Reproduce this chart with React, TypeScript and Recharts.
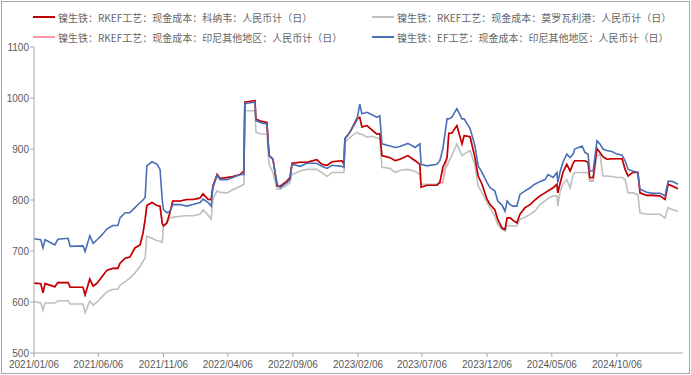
import React from "react";
import { LineChart, Line, XAxis, YAxis } from "recharts";

// sample dates (irregular, taken at the visible steps of the series)
const dates = [
  "2021-01-06", "2021-01-22", "2021-01-27", "2021-02-01", "2021-02-24", "2021-03-03", "2021-03-27", "2021-04-01",
  "2021-05-01", "2021-05-06", "2021-05-17", "2021-05-25", "2021-06-03", "2021-06-15", "2021-06-26", "2021-07-10",
  "2021-07-22", "2021-07-27", "2021-08-08", "2021-08-19", "2021-08-31", "2021-09-12", "2021-09-19", "2021-09-24",
  "2021-09-28", "2021-10-10", "2021-10-22", "2021-10-29", "2021-11-03", "2021-11-06", "2021-11-14", "2021-11-21",
  "2021-11-28", "2021-12-15", "2021-12-31", "2022-01-14", "2022-01-31", "2022-02-07", "2022-02-19", "2022-02-26",
  "2022-03-02", "2022-03-12", "2022-03-19", "2022-04-04", "2022-04-18", "2022-05-05", "2022-05-14", "2022-05-16",
  "2022-06-09", "2022-06-11", "2022-06-21", "2022-07-07", "2022-07-12", "2022-07-21", "2022-07-31", "2022-08-07",
  "2022-08-23", "2022-08-30", "2022-09-04", "2022-09-23", "2022-10-09", "2022-11-01", "2022-11-13", "2022-11-25",
  "2022-12-07", "2022-12-30", "2023-01-04", "2023-01-06", "2023-01-18", "2023-02-03", "2023-02-10", "2023-02-15",
  "2023-02-27", "2023-03-11", "2023-03-22", "2023-03-29", "2023-04-03", "2023-04-22", "2023-05-04", "2023-05-15",
  "2023-06-03", "2023-06-20", "2023-07-01", "2023-07-04", "2023-07-18", "2023-08-10", "2023-08-17", "2023-08-24",
  "2023-09-03", "2023-09-07", "2023-09-14", "2023-09-26", "2023-10-08", "2023-10-13", "2023-10-27", "2023-11-07",
  "2023-11-15", "2023-11-24", "2023-12-06", "2023-12-13", "2023-12-24", "2023-12-31", "2024-01-10", "2024-01-17",
  "2024-01-22", "2024-01-29", "2024-02-05", "2024-02-14", "2024-02-21", "2024-03-04", "2024-03-16", "2024-03-27",
  "2024-04-08", "2024-04-20", "2024-04-27", "2024-05-09", "2024-05-18", "2024-05-20", "2024-05-25", "2024-06-01",
  "2024-06-10", "2024-06-18", "2024-06-25", "2024-06-29", "2024-07-16", "2024-07-23", "2024-07-30", "2024-08-03",
  "2024-08-11", "2024-08-20", "2024-08-27", "2024-09-03", "2024-09-12", "2024-09-24", "2024-10-06", "2024-10-18",
  "2024-10-25", "2024-11-01", "2024-11-12", "2024-11-24", "2024-11-29", "2024-12-15", "2024-12-29", "2025-01-15",
  "2025-01-27", "2025-02-03", "2025-02-14", "2025-02-26",
];

// 科纳韦 RKEF
const konaweRkef = [
  637, 636, 618, 636, 630, 638, 638, 629, 629, 614, 645, 631, 637, 650, 662, 666,
  666, 676, 686, 688, 706, 712, 735, 762, 789, 795, 789, 788, 755, 749, 755, 775,
  798, 798, 801, 801, 804, 812, 801, 801, 827, 850, 842, 844, 846, 850, 857, 992,
  995, 959, 955, 952, 887, 880, 827, 827, 837, 844, 872, 874, 874, 879, 870, 868,
  875, 877, 870, 920, 933, 959, 962, 943, 946, 937, 929, 930, 887, 883, 877, 880,
  887, 877, 870, 825, 829, 829, 834, 864, 883, 931, 931, 946, 910, 926, 924, 885,
  847, 831, 801, 791, 781, 762, 745, 742, 765, 765, 760, 755, 772, 785, 791, 800,
  808, 814, 818, 824, 831, 814, 831, 854, 870, 857, 872, 877, 877, 877, 874, 844,
  844, 901, 893, 885, 880, 881, 881, 881, 860, 847, 854, 854, 814, 809, 809, 808,
  801, 831, 827, 822,
];

// 莫罗瓦利港 RKEF
const morowaliRkef = [
  601, 598, 584, 598, 598, 602, 603, 596, 596, 579, 602, 594, 600, 610, 620, 625,
  625, 633, 640, 647, 657, 670, 680, 686, 729, 725, 720, 719, 717, 749, 755, 765,
  766, 768, 769, 769, 772, 781, 770, 762, 801, 818, 815, 814, 820, 827, 831, 975,
  975, 933, 930, 929, 870, 854, 821, 821, 829, 834, 850, 857, 860, 860, 854, 846,
  854, 854, 854, 913, 923, 933, 929, 929, 923, 925, 922, 919, 864, 862, 854, 858,
  860, 856, 850, 831, 831, 831, 837, 857, 867, 875, 887, 910, 887, 890, 897, 870,
  827, 815, 795, 785, 768, 752, 742, 739, 749, 750, 749, 749, 762, 766, 772, 778,
  791, 798, 803, 808, 808, 788, 815, 831, 840, 824, 850, 854, 854, 854, 854, 837,
  837, 887, 890, 847, 847, 846, 844, 844, 840, 814, 814, 811, 775, 772, 772, 772,
  765, 785, 781, 778,
];

// 印尼其他地区 RKEF
const otherRkef = [
  637, 636, 618, 636, 630, 638, 638, 629, 629, 614, 645, 631, 637, 650, 662, 666,
  666, 676, 686, 688, 706, 712, 735, 762, 789, 795, 789, 788, 755, 749, 755, 775,
  798, 798, 801, 801, 804, 812, 801, 801, 827, 850, 842, 844, 846, 850, 857, 992,
  995, 959, 955, 952, 887, 880, 827, 827, 837, 844, 872, 874, 874, 879, 870, 868,
  875, 877, 870, 920, 933, 959, 962, 943, 946, 937, 929, 930, 887, 883, 877, 880,
  887, 877, 870, 825, 829, 829, 834, 834, 883, 931, 931, 946, 910, 926, 924, 885,
  847, 831, 801, 791, 781, 762, 745, 742, 765, 765, 760, 755, 772, 785, 791, 800,
  808, 814, 818, 824, 831, 814, 831, 854, 870, 857, 872, 877, 877, 877, 874, 840,
  840, 901, 893, 885, 880, 881, 881, 881, 860, 847, 854, 854, 814, 809, 809, 808,
  801, 831, 827, 822,
];

// 印尼其他地区 EF
const otherEf = [
  724, 722, 706, 722, 712, 723, 725, 709, 710, 699, 730, 715, 722, 732, 743, 750,
  750, 765, 775, 775, 785, 795, 800, 805, 867, 875, 870, 860, 801, 781, 775, 778,
  791, 791, 788, 791, 795, 802, 795, 788, 824, 848, 840, 840, 844, 850, 850, 989,
  992, 956, 952, 949, 887, 880, 831, 824, 834, 840, 870, 866, 872, 872, 866, 862,
  868, 866, 864, 920, 933, 956, 988, 969, 972, 967, 962, 965, 910, 906, 903, 905,
  911, 903, 910, 870, 867, 870, 877, 900, 959, 959, 962, 979, 959, 959, 940, 908,
  867, 854, 834, 824, 818, 798, 790, 778, 798, 791, 788, 788, 811, 818, 824, 831,
  836, 840, 850, 844, 854, 834, 854, 874, 890, 883, 890, 900, 906, 893, 890, 857,
  857, 916, 910, 900, 897, 895, 890, 888, 877, 860, 857, 854, 821, 815, 813, 813,
  808, 837, 836, 831,
];

const yTicks = [500, 600, 700, 800, 900, 1000, 1100];
const xTickDates = [
  "2021-01-06", "2021-06-06", "2021-11-06", "2022-04-06", "2022-09-06",
  "2023-02-06", "2023-07-06", "2023-12-06", "2024-05-06", "2024-10-06",
];
const xStart = "2021-01-06";
const xEnd = "2025-03-10";

const toTime = (s: string) => new Date(s + "T00:00:00Z").getTime();

const rows = dates.map((d, i) => ({
  t: toTime(d),
  konawe: konaweRkef[i],
  morowali: morowaliRkef[i],
  other: otherRkef[i],
  ef: otherEf[i],
}));

const fmtDate = (v: number) => {
  const d = new Date(v);
  const mm = String(d.getUTCMonth() + 1).padStart(2, "0");
  const dd = String(d.getUTCDate()).padStart(2, "0");
  return `${d.getUTCFullYear()}/${mm}/${dd}`;
};

const legendItems = [
  { name: "镍生铁：RKEF工艺：现金成本：科纳韦：人民币计（日）", color: "#C00000", left: 33, top: 11 },
  { name: "镍生铁：RKEF工艺：现金成本：莫罗瓦利港：人民币计（日）", color: "#BFBFBF", left: 372, top: 11 },
  { name: "镍生铁：RKEF工艺：现金成本：印尼其他地区：人民币计（日）", color: "#FF97A6", left: 33, top: 31 },
  { name: "镍生铁：EF工艺：现金成本：印尼其他地区：人民币计（日）", color: "#4A6EB5", left: 372, top: 31 },
];

const tickStyle = { fontSize: 10, fill: "#595959", fontFamily: "'Liberation Sans', Arial, sans-serif" };

export default function App() {
  return (
    <div style={{ position: "fixed", left: 0, top: 0, width: 691, height: 375, background: "#fff" }}>
      <div
        style={{
          position: "absolute",
          left: 1,
          top: 1,
          width: 687,
          height: 371,
          border: "1px solid #a6a6a6",
        }}
      />
      {legendItems.map((it) => (
        <div
          key={it.name}
          style={{
            position: "absolute",
            left: it.left,
            top: it.top,
            display: "flex",
            alignItems: "center",
            height: 12,
            fontFamily: "'Noto Sans CJK SC', sans-serif",
            fontSize: 10,
            color: "#666",
            whiteSpace: "nowrap",
          }}
        >
          <span style={{ display: "inline-block", width: 22, height: 2.5, background: it.color, marginRight: 3 }} />
          {it.name}
        </div>
      ))}
      <div style={{ position: "absolute", left: 0, top: 0 }}>
        <LineChart width={691} height={375} data={rows} margin={{ top: 47, right: 8, bottom: 2, left: 4 }}>
          <XAxis
            dataKey="t"
            type="number"
            domain={[toTime(xStart), toTime(xEnd)]}
            ticks={xTickDates.map(toTime)}
            tickFormatter={fmtDate}
            tick={tickStyle}
            tickSize={4}
            tickMargin={4}
            height={20}
            stroke="#a6a6a6"
            interval={0}
            allowDataOverflow
          />
          <YAxis
            type="number"
            domain={[500, 1100]}
            ticks={yTicks}
            tick={tickStyle}
            tickSize={4}
            tickMargin={1}
            width={30}
            stroke="#a6a6a6"
            interval={0}
          />
          <Line dataKey="other" stroke="#FF97A6" strokeWidth={1.6} dot={false} isAnimationActive={false} />
          <Line dataKey="morowali" stroke="#BFBFBF" strokeWidth={1.6} dot={false} isAnimationActive={false} />
          <Line dataKey="konawe" stroke="#C00000" strokeWidth={1.6} dot={false} isAnimationActive={false} />
          <Line dataKey="ef" stroke="#4A6EB5" strokeWidth={1.6} dot={false} isAnimationActive={false} />
        </LineChart>
      </div>
    </div>
  );
}
